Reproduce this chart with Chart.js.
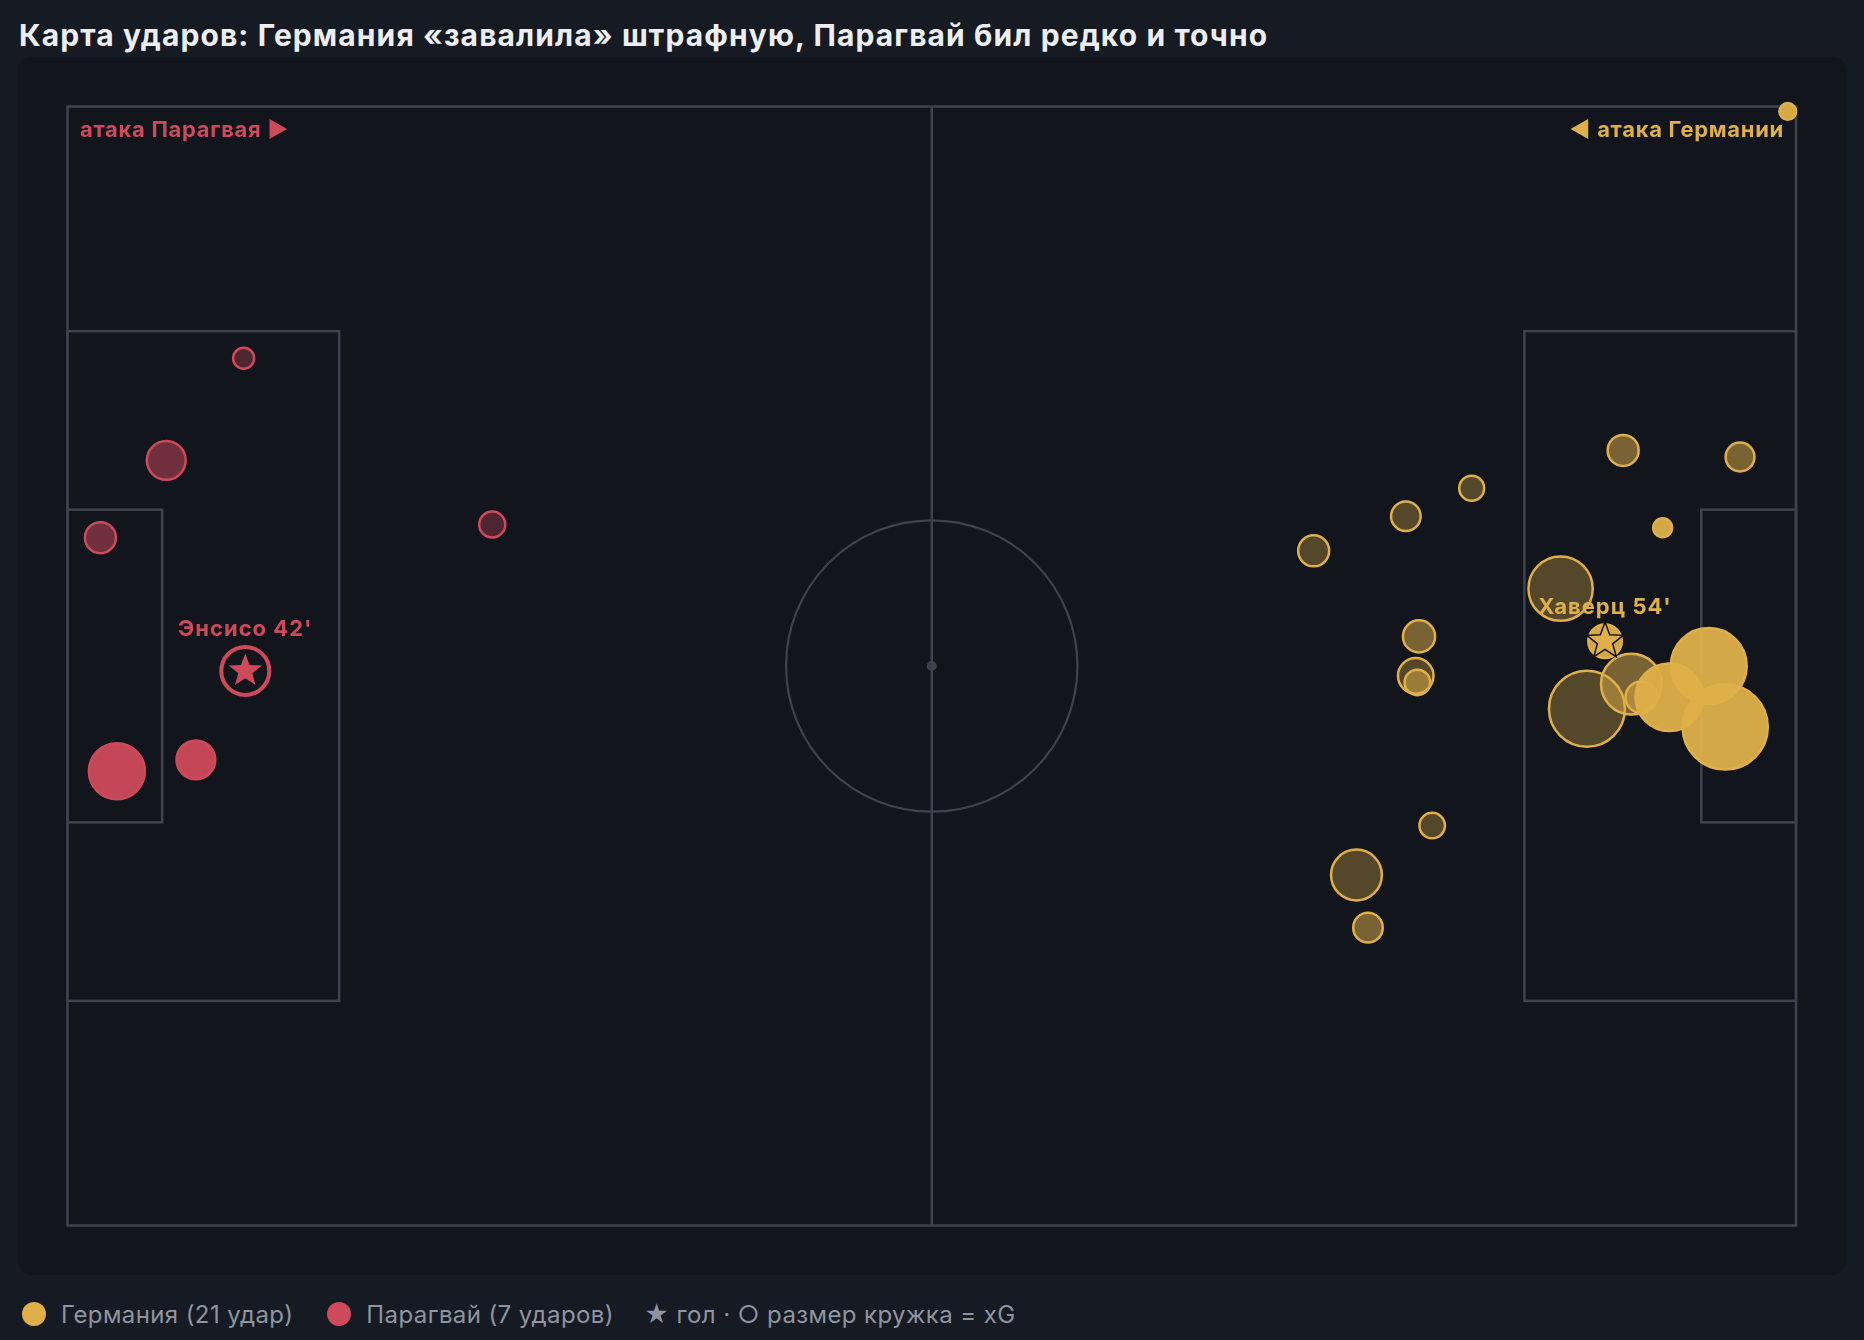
<!DOCTYPE html>
<html>
<head>
<meta charset="utf-8">
<script src="https://cdn.jsdelivr.net/npm/chart.js@4.4.1/dist/chart.umd.min.js"></script>
<style>
  html, body { margin:0; padding:0; background:#161a22; width:1864px; height:1340px; overflow:hidden;
    font-family: Inter, "Noto Sans", "DejaVu Sans", sans-serif; }
  #title { position:absolute; left:19px; top:17px; line-height:36px; font-size:30px; font-weight:700;
    letter-spacing:1.1px; color:#eceef2; white-space:nowrap; }
  #panel { position:absolute; left:18px; top:57px; width:1828px; height:1218px; background:#12151c;
    border-radius:14px; overflow:hidden; }
  #legend { position:absolute; left:22px; top:1300px; height:28px; display:flex; align-items:center;
    font-size:24px; letter-spacing:0.4px; color:#8f94a0; white-space:nowrap; }
  .dot { display:inline-block; width:24px; height:24px; border-radius:50%; margin-right:15px; }
</style>
</head>
<body>
<div id="title">Карта ударов: Германия «завалила» штрафную, Парагвай бил редко и точно</div>
<div id="panel"><canvas id="c"></canvas></div>
<div id="legend"></div>
<script>
// ---------- DATA (pitch metres: x 0..105 left→right, y 0..68 top→bottom) ----------
const outcomes = ['мимо', 'блок', 'в створ', 'гол'];

const germanyX       = [75.7, 81.3, 85.3, 90.7, 81.9, 92.3, 82.9, 78.3,  94.5, 101.6, 82.1, 82.0, 95.0, 95.6, 79.0,  96.9, 97.3, 99.7, 100.7, 104.5,  93.4];
const germanyY       = [27.0, 24.9, 23.2, 29.3, 34.6, 36.6, 43.7, 46.7,  20.9, 21.3, 32.2, 35.0, 35.1, 35.9, 49.9,  25.6, 35.9, 34.0, 37.7, 0.3,  32.5];
const germanyXG      = [0.073, 0.067, 0.049, 0.29, 0.094, 0.40, 0.051, 0.185,  0.073, 0.064, 0.078, 0.051, 0.26, 0.075, 0.067,  0.030, 0.32, 0.40, 0.50, 0.024,  0.084];
const germanyOutcome = ['мимо','мимо','мимо','мимо','мимо','мимо','мимо','мимо',  'блок','блок','блок','блок','блок','блок','блок',  'в створ','в створ','в створ','в створ','в створ',  'гол'];
const germanyGoalScorer = ['Хаверц'];
const germanyGoalMinute = [54];

const paraguayX       = [10.7, 25.8,  6.0, 2.0,  3.0, 7.8,  10.8];
const paraguayY       = [15.3, 25.4,  21.5, 26.2,  40.4, 39.7,  34.3];
const paraguayXG      = [0.036, 0.053,  0.111, 0.073,  0.223, 0.111,  0.166];
const paraguayOutcome = ['мимо','мимо',  'блок','блок',  'в створ','в створ',  'гол'];
const paraguayGoalScorer = ['Энсисо'];
const paraguayGoalMinute = [42];

const teamNames  = ['Германия', 'Парагвай'];
const attackLabels = ['◀ атака Германии', 'атака Парагвая ▶'];

// ---------- STYLE ----------
const COLORS = { ger: [223,176,73], par: [206,74,91] };
const ALPHA  = { 'мимо': 0.32, 'блок': 0.5, 'в створ': 0.95 };
const LINE = '#3d424d';
const FONT = 'Inter, "Noto Sans", "DejaVu Sans", sans-serif';
const PITCH = { len:105, wid:68, boxD:16.5, boxHalf:20.35, sixD:5.75, sixHalf:9.5, circleR:8.85 };

const rgba = (c, a) => `rgba(${c[0]},${c[1]},${c[2]},${a})`;
const radiusOf = xg => 62 * Math.sqrt(xg) - 1.25;

function makeDataset(label, xs, ys, xgs, outs, col, goalFill, goalBorder) {
  return {
    label,
    data: xs.map((x, i) => ({ x, y: ys[i] })),
    clip: false,
    pointRadius: ctx => radiusOf(xgs[ctx.dataIndex]),
    pointHoverRadius: ctx => radiusOf(xgs[ctx.dataIndex]),
    pointBorderWidth: ctx => outs[ctx.dataIndex] === 'гол' ? goalBorder : 2.5,
    pointHoverBorderWidth: ctx => outs[ctx.dataIndex] === 'гол' ? goalBorder : 2.5,
    pointBorderColor: rgba(col, 1),
    pointBackgroundColor: ctx => {
      const o = outs[ctx.dataIndex];
      return o === 'гол' ? rgba(col, goalFill) : rgba(col, ALPHA[o]);
    },
    showLine: false
  };
}

const datasets = [
  makeDataset(teamNames[0], germanyX, germanyY, germanyXG, germanyOutcome, COLORS.ger, 0.95, 2.5),
  makeDataset(teamNames[1], paraguayX, paraguayY, paraguayXG, paraguayOutcome, COLORS.par, 0, 4)
];

// ---------- Legend (HTML text) ----------
document.getElementById('legend').innerHTML =
  `<span class="dot" style="background:${rgba(COLORS.ger,1)}"></span><span>${teamNames[0]} (${germanyX.length} удар)</span>` +
  `<span class="dot" style="background:${rgba(COLORS.par,1)};margin-left:34px"></span><span>${teamNames[1]} (${paraguayX.length} ударов)</span>` +
  `<span style="margin-left:30px">★ гол · ○ размер кружка = xG</span>`;

function starPath(ctx, cx, cy, R, r) {
  ctx.beginPath();
  for (let i = 0; i < 10; i++) {
    const a = -Math.PI / 2 + i * Math.PI / 5;
    const rad = i % 2 === 0 ? R : r;
    ctx.lineTo(cx + rad * Math.cos(a), cy + rad * Math.sin(a));
  }
  ctx.closePath();
}

const pitchPlugin = {
  id: 'pitch',
  beforeDatasetsDraw(chart) {
    const { ctx, scales: { x, y } } = chart;
    const X = v => x.getPixelForValue(v), Y = v => y.getPixelForValue(v);
    const P = PITCH, cy = P.wid / 2;
    ctx.save();
    ctx.strokeStyle = LINE;
    ctx.lineWidth = 2.5;
    ctx.strokeRect(X(0), Y(0), X(P.len) - X(0), Y(P.wid) - Y(0));
    ctx.beginPath(); ctx.moveTo(X(P.len / 2), Y(0)); ctx.lineTo(X(P.len / 2), Y(P.wid)); ctx.stroke();
    const box = (x0, x1, half) => { ctx.strokeRect(Math.min(X(x0), X(x1)), Y(cy - half), Math.abs(X(x1) - X(x0)), Y(cy + half) - Y(cy - half)); };
    box(0, P.boxD, P.boxHalf); box(0, P.sixD, P.sixHalf);
    box(P.len - P.boxD, P.len, P.boxHalf); box(P.len - P.sixD, P.len, P.sixHalf);
    ctx.lineWidth = 2.2;
    ctx.beginPath(); ctx.arc(X(P.len / 2), Y(cy), X(P.circleR) - X(0), 0, Math.PI * 2); ctx.stroke();
    ctx.fillStyle = LINE;
    ctx.beginPath(); ctx.arc(X(P.len / 2), Y(cy), 5, 0, Math.PI * 2); ctx.fill();
    // attack labels
    ctx.font = `700 22px ${FONT}`;
    ctx.letterSpacing = '0.7px';
    ctx.textBaseline = 'alphabetic';
    ctx.fillStyle = rgba(COLORS.par, 1);
    ctx.textAlign = 'left';
    ctx.fillText(attackLabels[1], X(0) + 12.5, Y(0) + 30);
    ctx.fillStyle = rgba(COLORS.ger, 1);
    ctx.textAlign = 'right';
    ctx.fillText(attackLabels[0], X(P.len) - 12, Y(0) + 30);
    ctx.restore();
  },
  afterDatasetsDraw(chart) {
    const { ctx, scales: { x, y } } = chart;
    const teams = [
      { xs: germanyX, ys: germanyY, xgs: germanyXG, outs: germanyOutcome, col: COLORS.ger, names: germanyGoalScorer, mins: germanyGoalMinute, R: 17, stroke: '#12151c', ring: 2.5 },
      { xs: paraguayX, ys: paraguayY, xgs: paraguayXG, outs: paraguayOutcome, col: COLORS.par, names: paraguayGoalScorer, mins: paraguayGoalMinute, R: 17.5, stroke: null, ring: 4 }
    ];
    ctx.save();
    teams.forEach(t => {
      let g = 0;
      t.outs.forEach((o, i) => {
        if (o !== 'гол') return;
        const px = x.getPixelForValue(t.xs[i]), py = y.getPixelForValue(t.ys[i]);
        starPath(ctx, px, py, t.R, t.R * 0.42);
        ctx.fillStyle = rgba(t.col, 1);
        if (t.stroke) { ctx.lineWidth = 3; ctx.lineJoin = 'miter'; ctx.strokeStyle = t.stroke; ctx.stroke(); }
        ctx.fill();
        const r = radiusOf(t.xgs[i]) + t.ring / 2;
        ctx.font = `700 22px ${FONT}`;
        ctx.letterSpacing = '1px';
        ctx.textAlign = 'center';
        ctx.textBaseline = 'alphabetic';
        ctx.fillText(`${t.names[g]} ${t.mins[g]}'`, px, py - r - 9);
        g++;
      });
    });
    ctx.restore();
  }
};

new Chart(document.getElementById('c'), {
  type: 'scatter',
  data: { datasets },
  options: {
    responsive: true,
    maintainAspectRatio: false,
    animation: false,
    layout: { padding: { left: 49.5, right: 50, top: 49.5, bottom: 49.5 } },
    scales: {
      x: { type: 'linear', min: 0, max: PITCH.len, display: false },
      y: { type: 'linear', min: 0, max: PITCH.wid, reverse: true, display: false }
    },
    plugins: { legend: { display: false }, tooltip: { enabled: false } },
    events: []
  },
  plugins: [pitchPlugin]
});
</script>
</body>
</html>
